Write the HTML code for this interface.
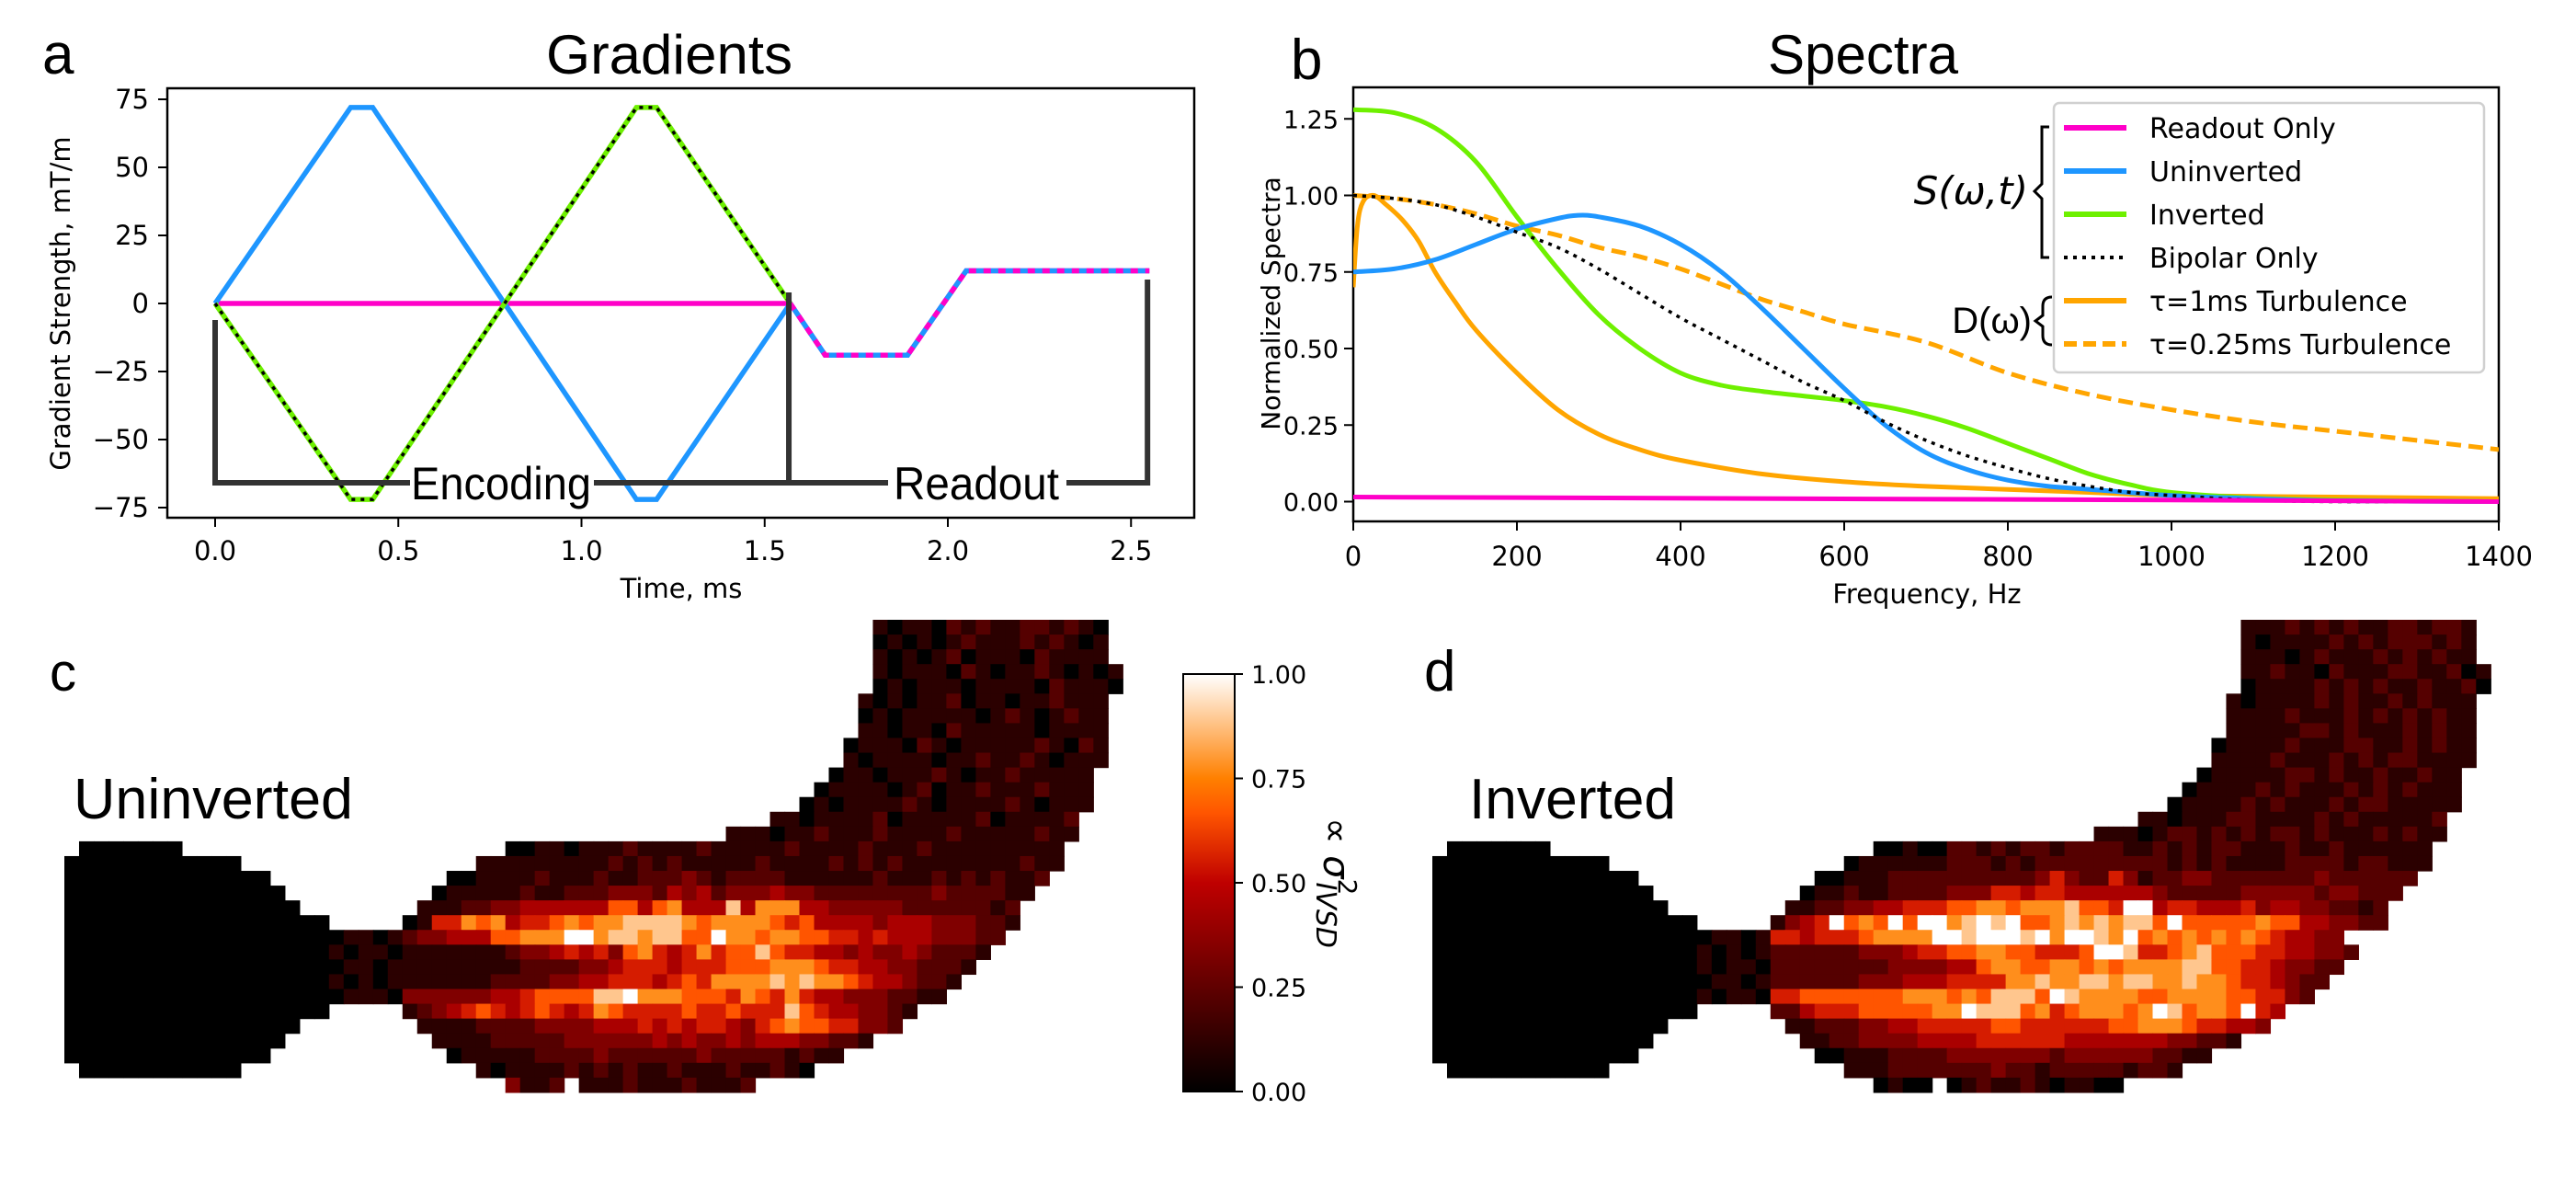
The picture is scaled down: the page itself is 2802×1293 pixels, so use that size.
<!DOCTYPE html>
<html><head><meta charset="utf-8"><style>
html,body{margin:0;padding:0;background:#fff;}
svg{display:block;}
text{font-family:"DejaVu Sans","Liberation Sans",sans-serif;}
.big{font-family:"Liberation Sans",sans-serif;}
</style></head><body>
<svg id="fig" width="2802" height="1293" viewBox="0 0 2802 1293" xmlns="http://www.w3.org/2000/svg">
<defs>
<linearGradient id="cbgrad" x1="0" y1="1" x2="0" y2="0">
<stop offset="0" stop-color="#000000"/><stop offset="0.3333" stop-color="#800000"/><stop offset="0.5" stop-color="#bf0000"/><stop offset="0.6667" stop-color="#ff5500"/><stop offset="0.75" stop-color="#ff8000"/><stop offset="1" stop-color="#ffffff"/>
</linearGradient>
</defs>
<text x="46" y="80" font-size="62" class="big">a</text>
<text x="594" y="80" font-size="60" class="big" textLength="268" lengthAdjust="spacingAndGlyphs">Gradients</text>
<text x="1404" y="86" font-size="62" class="big">b</text>
<text x="1923" y="80" font-size="60" class="big" textLength="207" lengthAdjust="spacingAndGlyphs">Spectra</text>
<text x="54" y="751" font-size="58" class="big">c</text>
<text x="1549" y="751" font-size="62" class="big">d</text>
<text x="80" y="890" font-size="62" class="big" textLength="304" lengthAdjust="spacingAndGlyphs">Uninverted</text>
<text x="1598" y="890" font-size="62" class="big" textLength="225" lengthAdjust="spacingAndGlyphs">Inverted</text>

<g id="panelA"></g>
<g id="panelB"></g>
<g id="heatC"></g>
<g id="heatD"></g>

<g>
<rect x="1287" y="733" width="56" height="454" fill="url(#cbgrad)" stroke="#000" stroke-width="2"/>
<g id="cbticks"></g>
<text transform="translate(1440,960) rotate(90)" text-anchor="middle" font-size="40" font-family="Liberation Serif, serif">∝ <tspan font-style="italic">σ</tspan><tspan font-size="28" dy="-16">2</tspan><tspan font-size="30" font-style="italic" dy="24" dx="-14">IVSD</tspan></text>
</g>
</svg>
<script>
// ---------- Panel A data ----------
const gradTime = [0, 0.37, 0.43, 1.15, 1.205, 1.57];
const uninvertedEnc = [0, 72, 72, -72, -72, 0];
const invertedEnc = [0, -72, -72, 72, 72, 0];
const readoutEnc = [0, 0, 0, 0, 0, 0];
const readoutTime = [1.57, 1.665, 1.89, 2.05, 2.55];
const readoutVals = [0, -19, -19, 12, 12];
const gradXTicks = [0.0, 0.5, 1.0, 1.5, 2.0, 2.5];
const gradXTickLabels = ["0.0", "0.5", "1.0", "1.5", "2.0", "2.5"];
const gradYTicks = [75, 50, 25, 0, -25, -50, -75];
const gradYTickLabels = ["75", "50", "25", "0", "\u221225", "\u221250", "\u221275"];

// ---------- Panel B data ----------
const freqGreen = [0,50,100,150,200,250,300,350,400,450,500,550,600,650,700,750,800,850,900,950,1000,1100,1200,1400];
const specGreen = [1.28,1.27,1.22,1.11,0.93,0.76,0.61,0.5,0.42,0.38,0.36,0.345,0.33,0.31,0.28,0.24,0.19,0.14,0.09,0.055,0.03,0.012,0.005,0.0];
const freqBlue = [0,50,100,150,200,250,275,300,350,400,450,500,550,600,650,700,750,800,850,900,1000,1100,1200,1400];
const specBlue = [0.75,0.76,0.79,0.84,0.89,0.925,0.935,0.93,0.9,0.84,0.75,0.63,0.5,0.37,0.25,0.16,0.105,0.07,0.05,0.04,0.02,0.01,0.003,0.0];
const freqBip = [0,50,100,150,200,250,300,350,400,450,500,550,600,650,700,750,800,850,900,950,1000,1100,1200,1400];
const specBip = [1.0,0.99,0.97,0.93,0.88,0.83,0.76,0.68,0.6,0.53,0.46,0.39,0.33,0.26,0.2,0.15,0.11,0.075,0.05,0.03,0.02,0.005,0.0,0.0];
const freqTurb1 = [0,5,12,25,40,60,80,100,125,150,200,250,300,350,400,500,600,700,800,900,1000,1200,1400];
const specTurb1 = [0.7,0.9,0.98,1.0,0.97,0.92,0.85,0.75,0.65,0.56,0.42,0.3,0.22,0.17,0.135,0.09,0.065,0.05,0.04,0.03,0.02,0.015,0.01];
const freqTurb025 = [0,50,100,150,200,250,300,350,400,450,500,550,600,700,800,900,1000,1100,1200,1300,1400];
const specTurb025 = [1.0,0.99,0.97,0.94,0.9,0.87,0.83,0.8,0.76,0.71,0.66,0.62,0.58,0.52,0.42,0.35,0.3,0.26,0.23,0.2,0.17];
const freqReadout = [0,1000,1400];
const specReadout = [0.015,0.005,0.0];
const specXTicks = [0,200,400,600,800,1000,1200,1400];
const specYTicks = [0,0.25,0.5,0.75,1.0,1.25];
const specYTickLabels = ["0.00","0.25","0.50","0.75","1.00","1.25"];
const legendLabels = ["Readout Only","Uninverted","Inverted","Bipolar Only","\u03c4=1ms Turbulence","\u03c4=0.25ms Turbulence"];

// ---------- Heatmap data ----------
const heatRowsC = [
 [[55,"1011021211221210"]],
 [[55,"0101012111212101"]],
 [[55,"1010120111021111"]],
 [[55,"10111021011210101"]],
 [[55,"01011101111021110"]],
 [[54,"10101120110112111"]],
 [[54,"01011111012101211"]],
 [[54,"11011021111101111"]],
 [[53,"011102101111121021"]],
 [[53,"101111011211210111"]],
 [[52,"011011121011211111"]],
 [[51,"0111101201121112111"]],
 [[50,"01011112101111210111"]],
 [[48,"110111120111112011112"]],
 [[45,"111011211121111211111211"]],
 [[1,"0000000"],[30,"00110111211112111112111121112111111111"]],
 [[0,"000000000000"],[28,"1111111112121211111211112121211111111211"]],
 [[0,"00000000000000"],[26,"00111121112112223212222111111211121212112"]],
 [[0,"000000000000000"],[25,"01111121122233324342333433222222223222211"]],
 [[0,"0000000000000000"],[24,"11122334444446646744484777443333322222212"]],
 [[0,"000000000000000000"],[23,"015576745567677888876777765644443444333221"]],
 [[0,"000000000000000000"],[18,"01101"],[23,"23344466777997887886697767766554544433322"]],
 [[0,"000000000000000000"],[18,"10110"],[23,"1111111233454536754575668655443433432221"]],
 [[0,"000000000000000000"],[18,"01101"],[23,"111111112222334555455566677765544332221"]],
 [[0,"000000000000000000"],[18,"10101"],[23,"11111122223344555456577778787765443221"]],
 [[0,"000000000000000000"],[18,"01110"],[23,"3333334456666889777666576575443332211"]],
 [[0,"000000000000000000"],[23,"12345654565457655556556555865443321"]],
 [[0,"0000000000000000"],[24,"111122223333444545455435676655332"]],
 [[0,"000000000000000"],[25,"111122222333333434334344433221"]],
 [[0,"00000000000000"],[26,"011111222232222223222221211"]],
 [[1,"00000000000"],[28,"10111121212112111211210"]],
 [[30,"3112"],[35,"111211121112"]]
];
const heatRowsD = [
 [[55,"1112121211221221"]],
 [[55,"1011112121222121"]],
 [[55,"1110121112121211"]],
 [[55,"11211021112211201"]],
 [[55,"01111212121121120"]],
 [[54,"10111121211212111"]],
 [[54,"11112111212121211"]],
 [[54,"11111221211121211"]],
 [[53,"011112111221121211"]],
 [[53,"111121112121221111"]],
 [[52,"011111221211211211"]],
 [[51,"0111121211121212111"]],
 [[50,"01111212111212211111"]],
 [[48,"110111221111212111112"]],
 [[45,"111012212121221211121211"]],
 [[1,"0000000"],[30,"00100221212212222112121221112112111111"]],
 [[0,"000000000000"],[28,"0111111222121222222222121211112222122111"]],
 [[0,"00000000000000"],[26,"00111222222222235322531223322222223222222"]],
 [[0,"000000000000000"],[25,"01121122223335545544444432222233333233222"]],
 [[0,"0000000000000000"],[24,"11223344555667767778665994554445344332212"]],
 [[0,"000000000000000000"],[23,"134596769699789896678787886966666766443322"]],
 [[0,"000000000000000000"],[18,"01101"],[23,"55455567777998999897998796767676765443 3".replace(" ","")]],
 [[0,"000000000000000000"],[18,"10101"],[23,"2222223334556677665556998556786665544332"]],
 [[0,"000000000000000000"],[18,"10110"],[23,"222222223333446776677676777788665543322"]],
 [[0,"000000000000000000"],[18,"01101"],[23,"22222233344455557787788788778776554322"]],
 [[0,"000000000000000000"],[18,"10110"],[23,"5566666667776768886987777667777665532"]],
 [[0,"000000000000000000"],[23,"22455566666779888675677767986776954"]],
 [[0,"0000000000000000"],[24,"112223344555556655555566777655443"]],
 [[0,"000000000000000"],[25,"112233334444555555444444433221"]],
 [[0,"00000000000000"],[26,"001112222333333323333332211"]],
 [[1,"00000000000"],[28,"11122222223221222221221"]],
 [[30,"0100"],[35,"012112101100"]]
];
const cbTicks = [0,0.25,0.5,0.75,1.0];
const cbTickLabels = ["0.00","0.25","0.50","0.75","1.00"];

const NS = "http://www.w3.org/2000/svg";
function mk(tag, attrs, parent){
  const e = document.createElementNS(NS, tag);
  for (const k in attrs) e.setAttribute(k, attrs[k]);
  parent.appendChild(e);
  return e;
}
function smoothPath(P){
  let d = 'M'+P[0][0].toFixed(1)+','+P[0][1].toFixed(1);
  for (let i=0;i<P.length-1;i++){
    const p0=P[Math.max(0,i-1)], p1=P[i], p2=P[i+1], p3=P[Math.min(P.length-1,i+2)];
    const c1x=p1[0]+(p2[0]-p0[0])/6, c1y=p1[1]+(p2[1]-p0[1])/6;
    const c2x=p2[0]-(p3[0]-p1[0])/6, c2y=p2[1]-(p3[1]-p1[1])/6;
    d += ` C${c1x.toFixed(1)},${c1y.toFixed(1)} ${c2x.toFixed(1)},${c2y.toFixed(1)} ${p2[0].toFixed(1)},${p2[1].toFixed(1)}`;
  }
  return d;
}

// ---------- Panel A ----------
(function(){
  const g = document.getElementById('panelA');
  const L=182, R=1299, T=96, B=563;
  const xA = t => 234 + t*398.5;
  const yA = v => 330 - v*2.96;
  const frame = mk('rect',{x:L,y:T,width:R-L,height:B-T,fill:'none',stroke:'#000','stroke-width':2.5},g);
  
  
  gradYTicks.forEach((v,i)=>{
    const tk = mk('line',{x1:L-10,x2:L,y1:yA(v),y2:yA(v),stroke:'#000','stroke-width':2},g);
    
    
    const tl = mk('text',{x:L-20,y:yA(v)+10,'font-size':29,'text-anchor':'end'},g);
    tl.textContent = gradYTickLabels[i];
    
    
  });
  gradXTicks.forEach((v,i)=>{
    const tk = mk('line',{x1:xA(v),x2:xA(v),y1:B,y2:B+10,stroke:'#000','stroke-width':2},g);
    
    
    const tl = mk('text',{x:xA(v),y:B+46,'font-size':29,'text-anchor':'middle'},g);
    tl.textContent = gradXTickLabels[i];
    
    
  });
  const xl = mk('text',{x:741,y:650,'font-size':29,'text-anchor':'middle'},g);
  xl.textContent = 'Time, ms';
  
  
  const yl = mk('text',{transform:'translate(76,330) rotate(-90)','font-size':29,'text-anchor':'middle'},g);
  yl.textContent = 'Gradient Strength, mT/m';
  
  

  function pts(ts,vs){ return ts.map((t,i)=>xA(t).toFixed(1)+','+yA(vs[i]).toFixed(1)).join(' '); }
  const rT = readoutTime, rV = readoutVals;
  const lines = [
    {name:'readout-only-line', ts:gradTime.concat(rT), vs:readoutEnc.concat(rV), c:'#ff00c8', d:null},
    {name:'uninverted-line', ts:gradTime.concat(rT), vs:uninvertedEnc.concat(rV), c:'#1e96ff', d:null},
    {name:'inverted-line', ts:gradTime, vs:invertedEnc, c:'#6ef000', d:null},
    {name:'bipolar-only-line', ts:gradTime, vs:invertedEnc, c:'#000', d:'4,6', w:3.5},
    {name:'readout-overlay-line', ts:rT, vs:rV, c:'#ff00c8', d:'8,8'}
  ];
  lines.forEach(s=>{
    const a = {points:pts(s.ts,s.vs),fill:'none',stroke:s.c,'stroke-width':s.w||5.5,'stroke-linejoin':'miter'};
    if (s.d) a['stroke-dasharray']=s.d;
    const p = mk('polyline',a,g);
    
    
  });
  const br = mk('path',{d:`M${xA(0)},348 V525 H${xA(2.545)} V304 M${xA(1.566)},318 V525`,fill:'none',stroke:'#333','stroke-width':6},g);
  
  
  const r1 = mk('rect',{x:446,y:500,width:200,height:50,fill:'#fff'},g);
  
  
  const r2 = mk('rect',{x:966,y:500,width:194,height:50,fill:'#fff'},g);
  
  
  const t1 = mk('text',{x:447,y:543,'font-size':50,'class':'big',textLength:196,lengthAdjust:'spacingAndGlyphs'},g);
  t1.textContent='Encoding';
  
  
  const t2 = mk('text',{x:972,y:543,'font-size':50,'class':'big',textLength:180,lengthAdjust:'spacingAndGlyphs'},g);
  t2.textContent='Readout';
  
  
})();

// ---------- Panel B ----------
(function(){
  const g = document.getElementById('panelB');
  const L=1472, R=2718, T=95, B=567;
  const xB = f => L + f*(R-L)/1400;
  const yB = v => 545.5 - v*333;
  const frame = mk('rect',{x:L,y:T,width:R-L,height:B-T,fill:'none',stroke:'#000','stroke-width':2.5},g);
  
  
  specYTicks.forEach((v,i)=>{
    const tk = mk('line',{x1:L-10,x2:L,y1:yB(v),y2:yB(v),stroke:'#000','stroke-width':2},g);
    
    
    const tl = mk('text',{x:L-16,y:yB(v)+10,'font-size':27,'text-anchor':'end'},g);
    tl.textContent = specYTickLabels[i];
    
    
  });
  specXTicks.forEach(v=>{
    const tk = mk('line',{x1:xB(v),x2:xB(v),y1:B,y2:B+10,stroke:'#000','stroke-width':2},g);
    
    
    const tl = mk('text',{x:xB(v),y:B+48,'font-size':29,'text-anchor':'middle'},g);
    tl.textContent = String(v);
    
    
  });
  const xl = mk('text',{x:2096,y:656,'font-size':29,'text-anchor':'middle'},g);
  xl.textContent = 'Frequency, Hz';
  
  
  const yl = mk('text',{transform:'translate(1392,330) rotate(-90)','font-size':28,'text-anchor':'middle'},g);
  yl.textContent = 'Normalized Spectra';
  
  

  const clip = mk('clipPath',{id:'clipB'},g);
  mk('rect',{x:L,y:T,width:R-L,height:B-T},clip);
  const series = [
    {name:'turbulence-025ms-line', f:freqTurb025, v:specTurb025, c:'#ffa500', d:'16,8'},
    {name:'turbulence-1ms-line', f:freqTurb1, v:specTurb1, c:'#ffa500', d:null},
    {name:'inverted-spectrum-line', f:freqGreen, v:specGreen, c:'#6ef000', d:null},
    {name:'uninverted-spectrum-line', f:freqBlue, v:specBlue, c:'#1e96ff', d:null},
    {name:'bipolar-only-spectrum-line', f:freqBip, v:specBip, c:'#000', d:'4,6', w:3.5},
    {name:'readout-only-spectrum-line', f:freqReadout, v:specReadout, c:'#ff00c8', d:null}
  ];
  series.forEach(s=>{
    const P = s.f.map((f,i)=>[xB(f), yB(s.v[i])]);
    const a = {d:smoothPath(P),fill:'none',stroke:s.c,'stroke-width':s.w||5,'clip-path':'url(#clipB)','stroke-linejoin':'round'};
    if (s.d) a['stroke-dasharray']=s.d;
    const p = mk('path',a,g);
    
    
  });
  const lg = mk('g',{},g);
  
  
  const box = mk('rect',{x:2234,y:112,width:468,height:293,rx:6,fill:'#fff','fill-opacity':0.85,stroke:'#d0d0d0','stroke-width':2.5},lg);
  
  
  const lc = ['#ff00c8','#1e96ff','#6ef000','#000','#ffa500','#ffa500'];
  const ld = [null,null,null,'4,6',null,'14,7'];
  legendLabels.forEach((lab,i)=>{
    const y = 139 + i*47;
    const a = {x1:2245,x2:2313,y1:y,y2:y,stroke:lc[i],'stroke-width':i==3?4:6};
    if (ld[i]) a['stroke-dasharray']=ld[i];
    const ln = mk('line',a,lg);
    
    
    const t = mk('text',{x:2338,y:y+11,'font-size':30},lg);
    t.textContent = lab;
    
    
  });
  const b1 = mk('path',{d:'M2229,138 H2221 V200 L2213,208 L2221,216 V280 H2229',fill:'none',stroke:'#000','stroke-width':3},g);
  
  
  const b2 = mk('path',{d:'M2232,323 Q2222,323 2222,333 V343 L2214,349 L2222,355 V365 Q2222,375 2232,375',fill:'none',stroke:'#000','stroke-width':3},g);
  
  
  const s1 = mk('text',{x:2206,y:222,'font-size':42,'text-anchor':'end','font-family':'Liberation Serif, serif','font-style':'italic'},g);
  s1.textContent = 'S(\u03c9,t)';
  
  
  const s2 = mk('text',{x:2210,y:362,'font-size':40,'text-anchor':'end','class':'big'},g);
  s2.textContent = 'D(\u03c9)';
  
  
})();

// ---------- Heatmaps ----------
function gistHeat(v){
  const c = x => Math.max(0,Math.min(255,Math.round(x*255)));
  return `rgb(${c(1.5*v)},${c(2*v-1)},${c(4*v-3)})`;
}
function drawHeat(id, rows, x0, y0){
  const g = document.getElementById(id);
  const cw = 15.99, ch = 16.06;
  rows.forEach((segs,r)=>{
    segs.forEach(seg=>{
      const start = seg[0], s = seg[1];
      for (let i=0;i<s.length;i++){
        const d = +s[i];
        const cell = mk('rect',{x:(x0+(start+i)*cw).toFixed(2),y:(y0+r*ch).toFixed(2),width:cw+0.6,height:ch+0.6,fill:gistHeat(d/9)},g);
        
        
      }
    });
  });
}
drawHeat('heatC', heatRowsC, 70, 674);
drawHeat('heatD', heatRowsD, 1558, 674);

(function(){
  const g = document.getElementById('cbticks');
  cbTicks.forEach((v,i)=>{
    const y = 1187 - v*454;
    const tk = mk('line',{x1:1343,x2:1352,y1:y,y2:y,stroke:'#000','stroke-width':2},g);
    
    
    const t = mk('text',{x:1361,y:y+10,'font-size':27},g);
    t.textContent = cbTickLabels[i];
    
    
  });
})();
</script>
</body></html>
